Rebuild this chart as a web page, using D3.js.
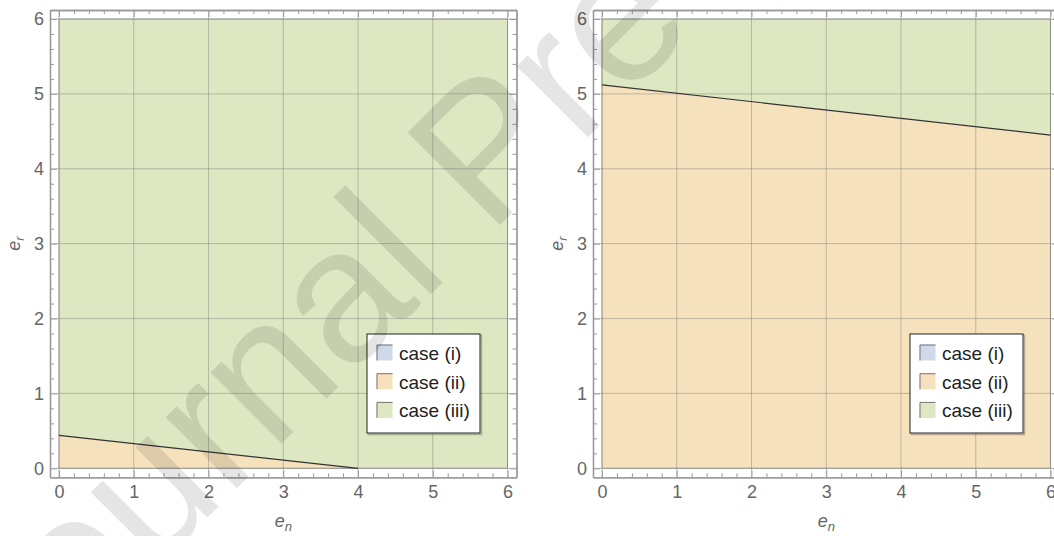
<!DOCTYPE html>
<html>
<head>
<meta charset="utf-8">
<script src="https://cdn.jsdelivr.net/npm/d3@7"></script>
<style>
  html, body { margin: 0; padding: 0; background: #fff; }
  svg { display: block; }
  text { font-family: "Liberation Sans", Arial, sans-serif; }
</style>
</head>
<body>
<svg id="chart" width="1054" height="536"></svg>
<script>
// Axis ticks and ranges (both panels share them)
const majorTicks = [0, 1, 2, 3, 4, 5, 6];
const minorTicks = [0.2, 0.4, 0.6, 0.8, 1.2, 1.4, 1.6, 1.8, 2.2, 2.4, 2.6, 2.8,
                    3.2, 3.4, 3.6, 3.8, 4.2, 4.4, 4.6, 4.8, 5.2, 5.4, 5.6, 5.8];
const plotRange = [0, 6];

// Legend entries
const caseLabels = ["case (i)", "case (ii)", "case (iii)"];
const caseColors = ["#5E81B5", "#E19C24", "#8FB032"];

// Boundary between case (ii) (below) and case (iii) (above), as [e_n, e_r]
const leftBoundary = [[0, 0.44], [4, 0]];
const rightBoundary = [[0, 5.12], [6, 4.45]];

const xLabel = ["e", "n"];
const yLabel = ["e", "r"];

const svg = d3.select("#chart");
const pad = 0.12;

function panel(frameLeft, boundary) {
  const frameW = 466.5, frameTop = 10, frameBottom = 477.3;
  const x = d3.scaleLinear().domain([plotRange[0] - pad, plotRange[1] + pad])
    .range([frameLeft, frameLeft + frameW]);
  const y = d3.scaleLinear().domain([plotRange[0] - pad, plotRange[1] + pad])
    .range([frameBottom, frameTop]);
  const g = svg.append("g");
  const [x0, x1] = plotRange, [y0, y1] = plotRange;
  const line = d3.line().x(d => x(d[0])).y(d => y(d[1]));
  const last = boundary[boundary.length - 1];

  // case (ii): below the boundary
  const below = [[x0, y0], ...boundary, [last[0], y0]];
  // case (iii): above the boundary
  const above = [...boundary, [x1, last[1]], [x1, y1], [x0, y1]];
  g.append("path").attr("d", line(below) + "Z")
    .attr("fill", caseColors[1]).attr("fill-opacity", 0.3);
  g.append("path").attr("d", line(above) + "Z")
    .attr("fill", caseColors[2]).attr("fill-opacity", 0.3);

  // plot area outline
  g.append("rect")
    .attr("x", x(x0)).attr("y", y(y1))
    .attr("width", x(x1) - x(x0)).attr("height", y(y0) - y(y1))
    .attr("fill", "none").attr("stroke", "rgba(0,0,0,0.32)").attr("stroke-width", 1);

  // grid lines across the framed area
  g.selectAll(".gx").data(majorTicks).join("line")
    .attr("x1", d => x(d)).attr("x2", d => x(d))
    .attr("y1", frameTop).attr("y2", frameBottom)
    .attr("stroke", "rgba(120,120,120,0.42)").attr("stroke-width", 1);
  g.selectAll(".gy").data(majorTicks).join("line")
    .attr("y1", d => y(d)).attr("y2", d => y(d))
    .attr("x1", frameLeft).attr("x2", frameLeft + frameW)
    .attr("stroke", "rgba(120,120,120,0.42)").attr("stroke-width", 1);

  // boundary curve
  g.append("path").attr("d", line(boundary))
    .attr("fill", "none").attr("stroke", "#333").attr("stroke-width", 1.2);

  // frame axes, ticks pointing inward
  const styleAxis = (sel, labels) => {
    sel.select(".domain").attr("stroke", "#999").attr("stroke-width", 1.3);
    sel.selectAll(".tick line").attr("stroke", "#999");
    sel.selectAll(".tick text").attr("fill", "#666").attr("font-size", 18)
      .style("font-family", "'Liberation Sans', Arial, sans-serif");
    if (!labels) sel.selectAll(".tick text").remove();
  };
  const mk = (axisFn, scale, vals, size, transform, labels, pad2) => {
    const a = g.append("g").attr("transform", transform)
      .call(axisFn(scale).tickValues(vals).tickSize(size).tickSizeOuter(0)
        .tickPadding(pad2).tickFormat(d3.format("d")));
    styleAxis(a, labels);
    return a;
  };
  // bottom
  mk(d3.axisBottom, x, majorTicks, -7, `translate(0,${frameBottom})`, true, 8);
  mk(d3.axisBottom, x, minorTicks, -4, `translate(0,${frameBottom})`, false, 0);
  // top
  mk(d3.axisTop, x, majorTicks, -7, `translate(0,${frameTop})`, false, 0);
  mk(d3.axisTop, x, minorTicks, -4, `translate(0,${frameTop})`, false, 0);
  // left
  mk(d3.axisLeft, y, majorTicks, -7, `translate(${frameLeft},0)`, true, 6);
  mk(d3.axisLeft, y, minorTicks, -4, `translate(${frameLeft},0)`, false, 0);
  // right
  mk(d3.axisRight, y, majorTicks, -7, `translate(${frameLeft + frameW},0)`, false, 0);
  mk(d3.axisRight, y, minorTicks, -4, `translate(${frameLeft + frameW},0)`, false, 0);

  // axis labels
  const cx = (x(x0) + x(x1)) / 2;
  const xl = g.append("text").attr("x", cx).attr("y", 527)
    .attr("text-anchor", "middle").attr("fill", "#666")
    .attr("font-size", 18).attr("font-style", "italic");
  xl.append("tspan").text(xLabel[0]);
  xl.append("tspan").attr("font-size", 13).attr("dy", 4).text(xLabel[1]);

  const cy = (y(y0) + y(y1)) / 2;
  const yl = g.append("text")
    .attr("transform", `translate(${frameLeft - 30},${cy}) rotate(-90)`)
    .attr("text-anchor", "middle").attr("fill", "#666")
    .attr("font-size", 18).attr("font-style", "italic");
  yl.append("tspan").text(yLabel[0]);
  yl.append("tspan").attr("font-size", 13).attr("dy", 4).text(yLabel[1]);

  // legend
  const lx = frameLeft + 317, ly = 334;
  const lg = g.append("g").attr("transform", `translate(${lx},${ly})`);
  lg.append("rect").attr("x", 1.5).attr("y", 1.5).attr("width", 113).attr("height", 99)
    .attr("fill", "none").attr("stroke", "rgba(0,0,0,0.25)").attr("stroke-width", 1.5);
  lg.append("rect").attr("width", 113).attr("height", 99)
    .attr("fill", "#fff").attr("stroke", "#222").attr("stroke-width", 1);
  const rows = lg.selectAll(".row").data(caseLabels).join("g")
    .attr("transform", (d, i) => `translate(9.5,${10.5 + i * 28.7})`);
  rows.append("rect").attr("width", 16).attr("height", 16)
    .attr("fill", (d, i) => caseColors[i]).attr("fill-opacity", 0.3);
  rows.append("path").attr("d", "M0.5,16V0.5H16")
    .attr("fill", "none").attr("stroke", "#777").attr("stroke-width", 1);
  rows.append("text").attr("x", 22.5).attr("y", 15.5)
    .attr("font-size", 19).attr("fill", "#222").text(d => d);
}

panel(50, leftBoundary);
panel(593, rightBoundary);

// diagonal watermark
svg.append("text")
  .attr("transform", "translate(11,714) rotate(-45)")
  .attr("font-size", 190)
  .attr("fill", "#000").attr("fill-opacity", 0.1)
  .text("Journal Pre-proof");
</script>
</body>
</html>
